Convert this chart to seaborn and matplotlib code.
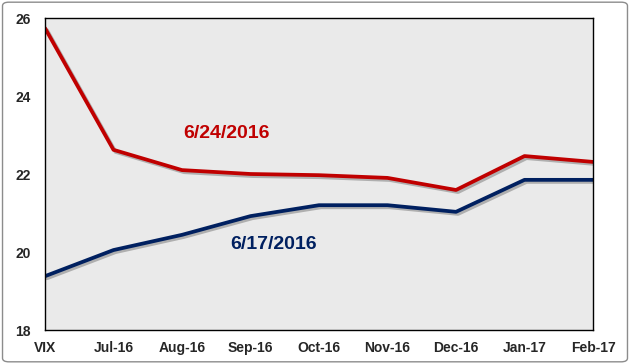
import numpy as np
import pandas as pd
import matplotlib
matplotlib.use("Agg")
import matplotlib.pyplot as plt
import matplotlib.patheffects as pe
from matplotlib.patches import FancyBboxPatch
import seaborn as sns

months = ["VIX", "Jul-16", "Aug-16", "Sep-16", "Oct-16", "Nov-16", "Dec-16", "Jan-17", "Feb-17"]
curve_0624 = [25.74, 22.62, 22.10, 22.00, 21.97, 21.90, 21.59, 22.46, 22.31]
curve_0617 = [19.38, 20.05, 20.44, 20.92, 21.20, 21.20, 21.03, 21.85, 21.85]

df = pd.DataFrame({
    "pos": list(range(len(months))) * 2,
    "value": curve_0624 + curve_0617,
    "date": ["6/24/2016"] * len(months) + ["6/17/2016"] * len(months),
})

sns.set_style("white")
plt.rcParams["font.family"] = ["Liberation Sans", "DejaVu Sans"]

fig = plt.figure(figsize=(6.3, 3.64), dpi=100)
ax = fig.add_axes([45 / 630, 1 - 330 / 364, (593 - 45) / 630, (330 - 18) / 364])
ax.set_facecolor("#EAEAEA")

colors = {"6/24/2016": "#C00000", "6/17/2016": "#002060"}
sns.lineplot(data=df, x="pos", y="value", hue="date", palette=colors,
             linewidth=2.7, legend=False, ax=ax)

shadow = [pe.SimpleLineShadow(offset=(1.5, -1.5), shadow_color="#888888", alpha=0.6), pe.Normal()]
for line in ax.get_lines():
    line.set_path_effects(shadow)

ax.set_xlim(0, len(months) - 1)
ax.set_ylim(18, 26)
ax.set_xticks(range(len(months)))
ax.set_xticklabels(months)
ax.set_yticks([18, 20, 22, 24, 26])
ax.tick_params(axis="both", length=0, labelsize=10)
ax.tick_params(axis="x", pad=8)
ax.tick_params(axis="y", pad=10)
for lab in ax.get_xticklabels() + ax.get_yticklabels():
    lab.set_fontweight("bold")
ax.set_xlabel("")
ax.set_ylabel("")
for s in ax.spines.values():
    s.set_visible(True)
    s.set_color("black")
    s.set_linewidth(1.0)

ax.text(2.65, 23.05, "6/24/2016", color="#C00000", fontsize=14, fontweight="bold", ha="center", va="center")
ax.text(3.34, 20.2, "6/17/2016", color="#002060", fontsize=14, fontweight="bold", ha="center", va="center")

border = FancyBboxPatch((0.004, 0.006), 0.992, 0.988, boxstyle="round,pad=0,rounding_size=0.01",
                        transform=fig.transFigure, facecolor="none", edgecolor="#8C8C8C", linewidth=1.0)
fig.patches.append(border)

fig.savefig("out.png", dpi=100)
